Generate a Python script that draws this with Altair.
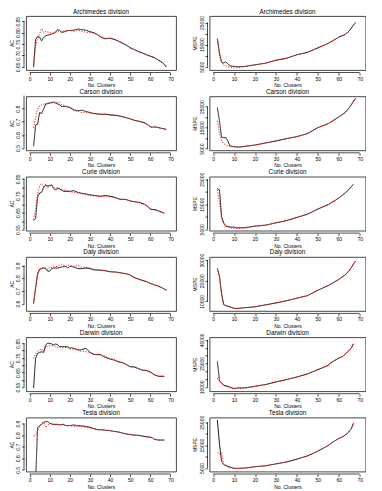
import altair as alt
import pandas as pd

# ---------------- data ----------------
XTICKS = [0, 10, 20, 30, 40, 50, 60, 70]

# Archimedes
arch_ac_x = [2,3,4,5,6,7,8,10,12,13,14,15,16,17,19,21,22,24,26,28,30,32,34,35,37,38,40,42,44,46,48,50,52,54,56,58,60,62,64,66,67,68]
arch_ac_black = [0.650,0.769,0.783,0.780,0.764,0.779,0.786,0.791,0.797,0.803,0.814,0.809,0.801,0.803,0.809,0.810,0.811,0.816,0.813,0.811,0.804,0.800,0.790,0.783,0.774,0.773,0.776,0.771,0.763,0.754,0.746,0.734,0.726,0.717,0.711,0.703,0.697,0.691,0.679,0.669,0.660,0.649]
arch_ac_red = [0.648,0.740,0.775,0.795,0.818,0.800,0.805,0.800,0.798,0.800,0.805,0.803,0.806,0.806,0.810,0.808,0.806,0.810,0.806,0.802,0.800,0.797,0.790,0.785,0.778,0.775,0.774,0.770,0.764,0.757,0.745,0.731,0.725,0.718,0.710,0.704,0.695,0.690,0.680,0.668,0.660,0.650]
arch_ms_x = [2,3,4,5,6,7,8,10,12,15,20,25,30,35,40,45,50,55,60,63,65,67,68]
arch_ms_black = [17647,11324,7206,6618,7206,6324,5441,5147,5000,5147,5882,6618,7941,8824,10441,11471,13529,15588,18382,19559,21176,23824,25000]
arch_ms_red = [17647,9853,6912,5735,5441,5000,4853,4412,4706,5000,5882,6618,7941,8824,10441,11471,13529,15588,18382,19559,21176,23824,25000]

# Carson
cars_ac_x = [2,3,4,5,6,7,8,10,12,13,15,16,18,20,22,24,26,28,30,32,35,38,40,43,45,48,50,52,55,57,59,60,63,65,68]
cars_ac_black = [0.513,0.675,0.681,0.771,0.763,0.797,0.835,0.843,0.848,0.843,0.830,0.817,0.817,0.810,0.792,0.784,0.789,0.779,0.771,0.763,0.758,0.758,0.753,0.750,0.743,0.732,0.722,0.712,0.701,0.694,0.675,0.660,0.660,0.652,0.642]
cars_ac_red = [0.655,0.732,0.797,0.823,0.828,0.835,0.841,0.846,0.856,0.848,0.848,0.830,0.823,0.805,0.789,0.779,0.771,0.774,0.768,0.763,0.755,0.758,0.750,0.748,0.745,0.730,0.725,0.712,0.704,0.691,0.678,0.663,0.658,0.652,0.642]
cars_ms_x = [2,3,4,5,6,7,8,10,12,15,20,25,30,35,40,45,50,55,60,63,65,68]
cars_ms_black = [24520,18172,10555,10238,10238,8651,6270,5952,5794,6111,6746,7698,8651,9762,10714,12142,14999,16903,20077,22140,24520,28964]
cars_ms_red = [18172,12618,8651,7381,6746,6428,6111,5794,5476,5952,6587,7698,8651,9762,10714,12142,14999,16903,20077,22140,24520,28964]

# Curie
curi_ac_x = [2,3,4,5,6,7,8,9,10,11,12,13,14,15,17,20,22,24,26,28,30,33,35,38,40,42,45,48,50,53,55,57,59,60,63,65,67]
curi_ac_black = [0.603,0.615,0.742,0.766,0.770,0.799,0.812,0.808,0.808,0.814,0.793,0.785,0.795,0.789,0.776,0.776,0.780,0.770,0.764,0.761,0.755,0.751,0.747,0.751,0.747,0.742,0.728,0.728,0.719,0.713,0.709,0.700,0.685,0.671,0.666,0.656,0.647]
curi_ac_red = [0.609,0.675,0.761,0.808,0.823,0.804,0.818,0.795,0.818,0.804,0.799,0.789,0.799,0.793,0.785,0.774,0.770,0.766,0.761,0.755,0.751,0.747,0.745,0.747,0.744,0.738,0.732,0.725,0.719,0.713,0.707,0.698,0.683,0.671,0.664,0.654,0.647]
curi_ms_x = [2,3,4,5,6,8,10,11,12,15,20,25,30,35,40,45,50,55,60,63,65,67]
curi_ms_black = [21282,20769,10128,7564,6282,5897,5897,5641,5641,5641,6282,6667,7564,8461,9743,11025,13077,14871,17435,19487,21025,22948]
curi_ms_red = [20769,15897,9487,7179,6282,5641,5256,5256,5385,5513,6154,6667,7564,8461,9743,11025,13077,14871,17435,19487,21025,22948]

# Daly
daly_ac_x = [2,3,4,5,6,7,8,9,10,11,12,14,16,18,19,20,22,24,26,28,30,32,35,37,40,43,45,48,50,52,55,58,60,62,64,66,68]
daly_ac_black = [0.600,0.718,0.830,0.868,0.875,0.880,0.875,0.855,0.855,0.875,0.880,0.880,0.888,0.893,0.880,0.893,0.888,0.875,0.875,0.880,0.875,0.865,0.863,0.860,0.850,0.848,0.843,0.835,0.825,0.805,0.788,0.773,0.760,0.748,0.738,0.723,0.705]
daly_ac_red = [0.605,0.730,0.843,0.875,0.880,0.888,0.880,0.868,0.888,0.885,0.888,0.893,0.910,0.893,0.905,0.900,0.893,0.900,0.885,0.885,0.880,0.868,0.865,0.860,0.853,0.845,0.840,0.833,0.825,0.803,0.788,0.775,0.760,0.748,0.735,0.723,0.705]
daly_ms_x = [2,3,4,5,6,8,10,12,15,20,25,30,35,40,45,50,55,60,63,65,68]
daly_ms_black = [25846,22308,13846,8462,8000,7385,6615,6615,6923,7385,8308,9231,10308,11538,12769,15385,17692,20615,22769,24923,29538]
daly_ms_red = [25846,21538,13077,8462,7846,7231,6615,6615,6923,7385,8308,9231,10308,11538,12769,15385,17692,20615,22769,24923,29538]

# Darwin
darw_ac_x = [2,3,4,5,6,7,8,9,10,11,12,13,14,15,17,19,20,21,23,25,27,28,29,30,32,35,37,40,42,44,46,48,50,52,54,56,58,60,62,64,67]
darw_ac_black = [0.543,0.746,0.781,0.788,0.792,0.788,0.839,0.850,0.850,0.846,0.839,0.846,0.839,0.827,0.827,0.827,0.816,0.820,0.811,0.804,0.811,0.816,0.804,0.788,0.774,0.774,0.758,0.742,0.735,0.723,0.719,0.705,0.689,0.689,0.677,0.665,0.665,0.654,0.635,0.624,0.624]
darw_ac_red = [0.746,0.774,0.797,0.804,0.811,0.797,0.827,0.832,0.834,0.834,0.834,0.829,0.823,0.820,0.820,0.823,0.811,0.811,0.806,0.797,0.795,0.792,0.790,0.788,0.774,0.769,0.765,0.746,0.742,0.728,0.719,0.707,0.691,0.686,0.677,0.670,0.663,0.649,0.635,0.626,0.624]
darw_ms_x = [2,3,4,5,7,9,10,12,15,20,25,30,35,40,45,50,55,56,60,62,64,66,67]
darw_ms_black = [26278,14017,12537,11057,10423,9366,8943,9366,9366,10423,11480,13171,14651,16342,18245,20993,23741,25221,28392,29449,32197,34734,37482]
darw_ms_red = [15708,13594,11903,10846,9789,8943,8732,8943,9154,10211,11480,13171,14651,16342,18245,20993,23741,25221,28392,29449,32197,34734,37482]

# Tesla
tesl_ac_black_x = [3,4,5,6,7,8,9,10,11,12,14,15,17,18,20,22,24,26,28,30,32,34,36,38,40,42,44,46,48,50,52,54,56,58,60,61,62,64,66,67]
tesl_ac_black = [0.400,0.867,0.881,0.894,0.911,0.917,0.917,0.903,0.897,0.894,0.894,0.889,0.894,0.883,0.883,0.889,0.881,0.881,0.875,0.869,0.856,0.847,0.847,0.842,0.839,0.833,0.828,0.819,0.811,0.806,0.800,0.800,0.792,0.786,0.783,0.778,0.764,0.758,0.758,0.758]
tesl_ac_red_x = [2,3,4,5,6,7,8,9,10,12,14,16,18,20,22,24,26,28,30,32,35,38,40,42,45,48,50,52,55,58,60,62,64,67]
tesl_ac_red = [0.792,0.797,0.839,0.875,0.903,0.911,0.867,0.883,0.903,0.889,0.889,0.894,0.883,0.883,0.875,0.881,0.875,0.867,0.861,0.856,0.847,0.842,0.842,0.833,0.825,0.811,0.806,0.800,0.797,0.786,0.783,0.767,0.758,0.758]
tesl_ms_x = [2,3,4,5,6,8,10,12,15,20,25,30,35,40,45,50,55,57,60,62,64,66,67]
tesl_ms_black = [25972,15556,7917,6528,6111,5417,4861,4861,5000,5556,5972,6806,7639,8889,10278,12361,14861,16250,17917,18750,20000,22222,24583]
tesl_ms_red = [12083,11111,11667,6806,5833,5139,4722,4722,4861,5556,5972,6806,7639,8889,10278,12361,14861,16250,17917,18750,20000,22222,24583]

# ---------------- styling ----------------
FONT = "Liberation Sans"
XDOM = [-1.76, 72.76]
H = 54
WL, WR = 150, 156
XOFF, YOFF = 2.5, 2


def panel(title, bx, by, rx, ry, ydom, yvals, ylabels, yfmt, ytitle, width):
    df = pd.concat([
        pd.DataFrame({"x": bx, "y": by, "s": "black"}),
        pd.DataFrame({"x": rx, "y": ry, "s": "red"}),
    ], ignore_index=True)
    xs = alt.Scale(domain=XDOM, nice=False, zero=False)
    ys = alt.Scale(domain=ydom, nice=False, zero=False)
    lab = ",".join(repr(v) for v in ylabels)
    xaxis = alt.Axis(values=XTICKS, title="No. Clusters", domain=False, grid=False,
                     tickSize=2.5, tickColor="black", tickWidth=0.7, offset=XOFF,
                     labelFontSize=5, labelFont=FONT, labelColor="black", labelPadding=1,
                     titleFontSize=5, titleFont=FONT, titleColor="black", titleFontWeight="normal",
                     titlePadding=1.5)
    yaxis = alt.Axis(values=yvals, labelExpr="indexof([%s], datum.value) >= 0 ? datum.label : ''" % lab,
                     format=yfmt, title=ytitle, domain=False, grid=False,
                     tickSize=2.5, tickColor="black", tickWidth=0.7, offset=YOFF,
                     labelAngle=270, labelAlign="center", labelBaseline="bottom",
                     labelFontSize=5, labelFont=FONT, labelColor="black", labelPadding=1,
                     titleFontSize=5, titleFont=FONT, titleColor="black", titleFontWeight="normal",
                     titlePadding=1.5, labelOverlap=False)
    lines = alt.Chart(df).mark_line(strokeWidth=0.9, clip=True).encode(
        x=alt.X("x:Q", scale=xs, axis=xaxis),
        y=alt.Y("y:Q", scale=ys, axis=yaxis),
        color=alt.Color("s:N", scale=alt.Scale(domain=["black", "red"], range=["#000000", "#ff0000"]), legend=None),
        strokeDash=alt.StrokeDash("s:N", scale=alt.Scale(domain=["black", "red"], range=[[1, 0], [1.2, 1.5]]), legend=None),
        order=alt.Order("x:Q"),
    )
    one = pd.DataFrame({"a": [0]})
    xline = alt.Chart(one).mark_rule(color="black", strokeWidth=0.7).encode(
        x=alt.XDatum(XTICKS[0], scale=xs, axis=xaxis), x2=alt.X2Datum(XTICKS[-1]),
        y=alt.value(H + XOFF))
    yline = alt.Chart(one).mark_rule(color="black", strokeWidth=0.7).encode(
        y=alt.YDatum(yvals[0], scale=ys, axis=yaxis), y2=alt.Y2Datum(yvals[-1]),
        x=alt.value(-YOFF))
    ttl = alt.Chart(one).mark_text(text=title, font=FONT, fontSize=6.3, color="black",
                                   align="center", baseline="middle").encode(
        x=alt.value(width / 2), y=alt.value(-4.5))
    return alt.layer(lines, xline, yline, ttl).properties(width=width, height=H)


panels = [
    panel("Archimedes division", arch_ac_x, arch_ac_black, arch_ac_x, arch_ac_red,
          [0.636, 0.873], [0.65, 0.70, 0.75, 0.80, 0.85], [0.65, 0.70, 0.75, 0.80, 0.85], ".2f", "AC", WL),
    panel("Archimedes division", arch_ms_x, arch_ms_black, arch_ms_x, arch_ms_red,
          [3530, 27940], [5000, 10000, 15000, 20000, 25000], [5000, 15000, 25000], "d", "MSPE", WR),
    panel("Carson division", cars_ac_x, cars_ac_black, cars_ac_x, cars_ac_red,
          [0.482, 0.895], [0.5, 0.6, 0.7, 0.8, 0.9], [0.5, 0.6, 0.7, 0.8, 0.9], ".1f", "AC", WL),
    panel("Carson division", cars_ms_x, cars_ms_black, cars_ms_x, cars_ms_red,
          [4206, 29916], [5000, 10000, 15000, 20000, 25000], [5000, 15000, 25000], "d", "MSPE", WR),
    panel("Curie division", curi_ac_x, curi_ac_black, curi_ac_x, curi_ac_red,
          [0.544, 0.863], [0.55, 0.60, 0.65, 0.70, 0.75, 0.80, 0.85], [0.55, 0.65, 0.75, 0.85], ".2f", "AC", WL),
    panel("Curie division", curi_ms_x, curi_ms_black, curi_ms_x, curi_ms_red,
          [4487, 26026], [5000, 10000, 15000, 20000, 25000], [5000, 15000, 25000], "d", "MSPE", WR),
    panel("Daly division", daly_ac_x, daly_ac_black, daly_ac_x, daly_ac_red,
          [0.543, 0.967], [0.6, 0.7, 0.8, 0.9], [0.6, 0.7, 0.8, 0.9], ".1f", "AC", WL),
    panel("Daly division", daly_ms_x, daly_ms_black, daly_ms_x, daly_ms_red,
          [5385, 31538], [10000, 20000, 30000], [10000, 20000, 30000], "d", "MSPE", WR),
    panel("Darwin division", darw_ac_x, darw_ac_black, darw_ac_x, darw_ac_red,
          [0.522, 0.892], [0.55, 0.60, 0.65, 0.70, 0.75, 0.80, 0.85], [0.55, 0.65, 0.75, 0.85], ".2f", "AC", WL),
    panel("Darwin division", darw_ms_x, darw_ms_black, darw_ms_x, darw_ms_red,
          [7252, 41710], [10000, 15000, 20000, 25000, 30000, 35000, 40000], [10000, 25000, 40000], "d", "MSPE", WR),
    panel("Tesla division", tesl_ac_black_x, tesl_ac_black, tesl_ac_red_x, tesl_ac_red,
          [0.486, 0.953], [0.5, 0.6, 0.7, 0.8, 0.9], [0.5, 0.6, 0.7, 0.8, 0.9], ".1f", "AC", WL),
    panel("Tesla division", tesl_ms_x, tesl_ms_black, tesl_ms_x, tesl_ms_red,
          [3472, 27083], [5000, 10000, 15000, 20000, 25000], [5000, 15000, 25000], "d", "MSPE", WR),
]

chart = alt.concat(
    *panels, columns=2, spacing={"row": 26.3, "column": 33.5}, bounds="flush"
).properties(padding=0).configure_view(stroke="#333333", strokeWidth=0.9)

chart.save("out.html", embed_options={"renderer": "svg", "actions": False})
